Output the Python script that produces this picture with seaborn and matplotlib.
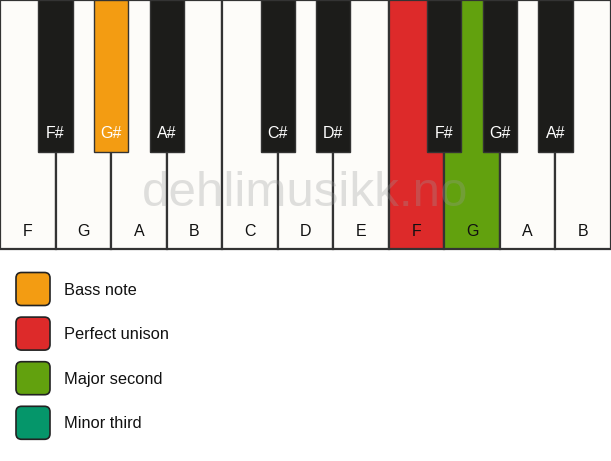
import matplotlib
matplotlib.use('Agg')
import matplotlib.pyplot as plt
from matplotlib.patches import FancyBboxPatch
import pandas as pd
import seaborn as sns

# Keyboard data (x in white-key units, y in pixels from top)
white_notes = ['F', 'G', 'A', 'B', 'C', 'D', 'E', 'F', 'G', 'A', 'B']
white_colors = ['#fdfcf9'] * 7 + ['#dd2a2a', '#62a10e', '#fdfcf9', '#fdfcf9']
black_notes = ['F#', 'G#', 'A#', 'C#', 'D#', 'F#', 'G#', 'A#']
black_pos = [1, 2, 3, 5, 6, 8, 9, 10]   # boundary between white keys
black_colors = ['#1c1c1a', '#f39c12', '#1c1c1a', '#1c1c1a', '#1c1c1a',
                '#1c1c1a', '#1c1c1a', '#1c1c1a']
white_len = 249
black_len = 152

legend_labels = ['Bass note', 'Perfect unison', 'Major second', 'Minor third']
legend_colors = ['#f39c12', '#dd2a2a', '#62a10e', '#05966a']

sns.set_theme(style='white')
plt.rcParams['font.family'] = ['Liberation Sans', 'DejaVu Sans']

fig = plt.figure(figsize=(6.11, 4.61), dpi=100)
ax = fig.add_axes([0, 0, 1, 1])

white_df = pd.DataFrame({'x': [i + 0.5 for i in range(len(white_notes))],
                         'len': [white_len] * len(white_notes)})
black_df = pd.DataFrame({'x': black_pos, 'len': [black_len] * len(black_pos)})

sns.barplot(data=white_df, x='x', y='len', native_scale=True, width=1.0,
            color='white', edgecolor='#333333', linewidth=1.6, ax=ax,
            errorbar=None)
n_white = len(ax.patches)
for p, c in zip(ax.patches, white_colors):
    p.set_facecolor(c)

sns.barplot(data=black_df, x='x', y='len', native_scale=True, width=0.615,
            color='black', edgecolor='#333333', linewidth=1.0, ax=ax,
            errorbar=None)
for p, c in zip(ax.patches[n_white:], black_colors):
    p.set_facecolor(c)
    p.set_zorder(3)

ax.set_xlim(0, len(white_notes))
ax.set_ylim(461, 0)
ax.axis('off')

# watermark
ax.text(5.5, 193, 'dehlimusikk.no', fontsize=35.5, color='#999999', alpha=0.3,
        ha='center', va='center', zorder=2)

for i, n in enumerate(white_notes):
    ax.text(i + 0.5, 231, n, fontsize=11.5, ha='center', va='center',
            color='#111111', zorder=4)
for b, n in zip(black_pos, black_notes):
    ax.text(b, 133, n, fontsize=11.5, ha='center', va='center',
            color='white', zorder=4)

# legend
for k, (lab, col) in enumerate(zip(legend_labels, legend_colors)):
    yc = 289 + k * 44.6
    box = FancyBboxPatch((16 / 55.545, yc - 16.5), 34 / 55.545, 33,
                         boxstyle='round,pad=0,rounding_size=0.1',
                         mutation_aspect=55.545,
                         facecolor=col, edgecolor='#222222', linewidth=1.2,
                         transform=ax.transData, zorder=4)
    ax.add_patch(box)
    ax.text(64 / 55.545, yc + 1, lab, fontsize=11.8, ha='left', va='center',
            color='#111111')

fig.savefig('out.png', dpi=100)
